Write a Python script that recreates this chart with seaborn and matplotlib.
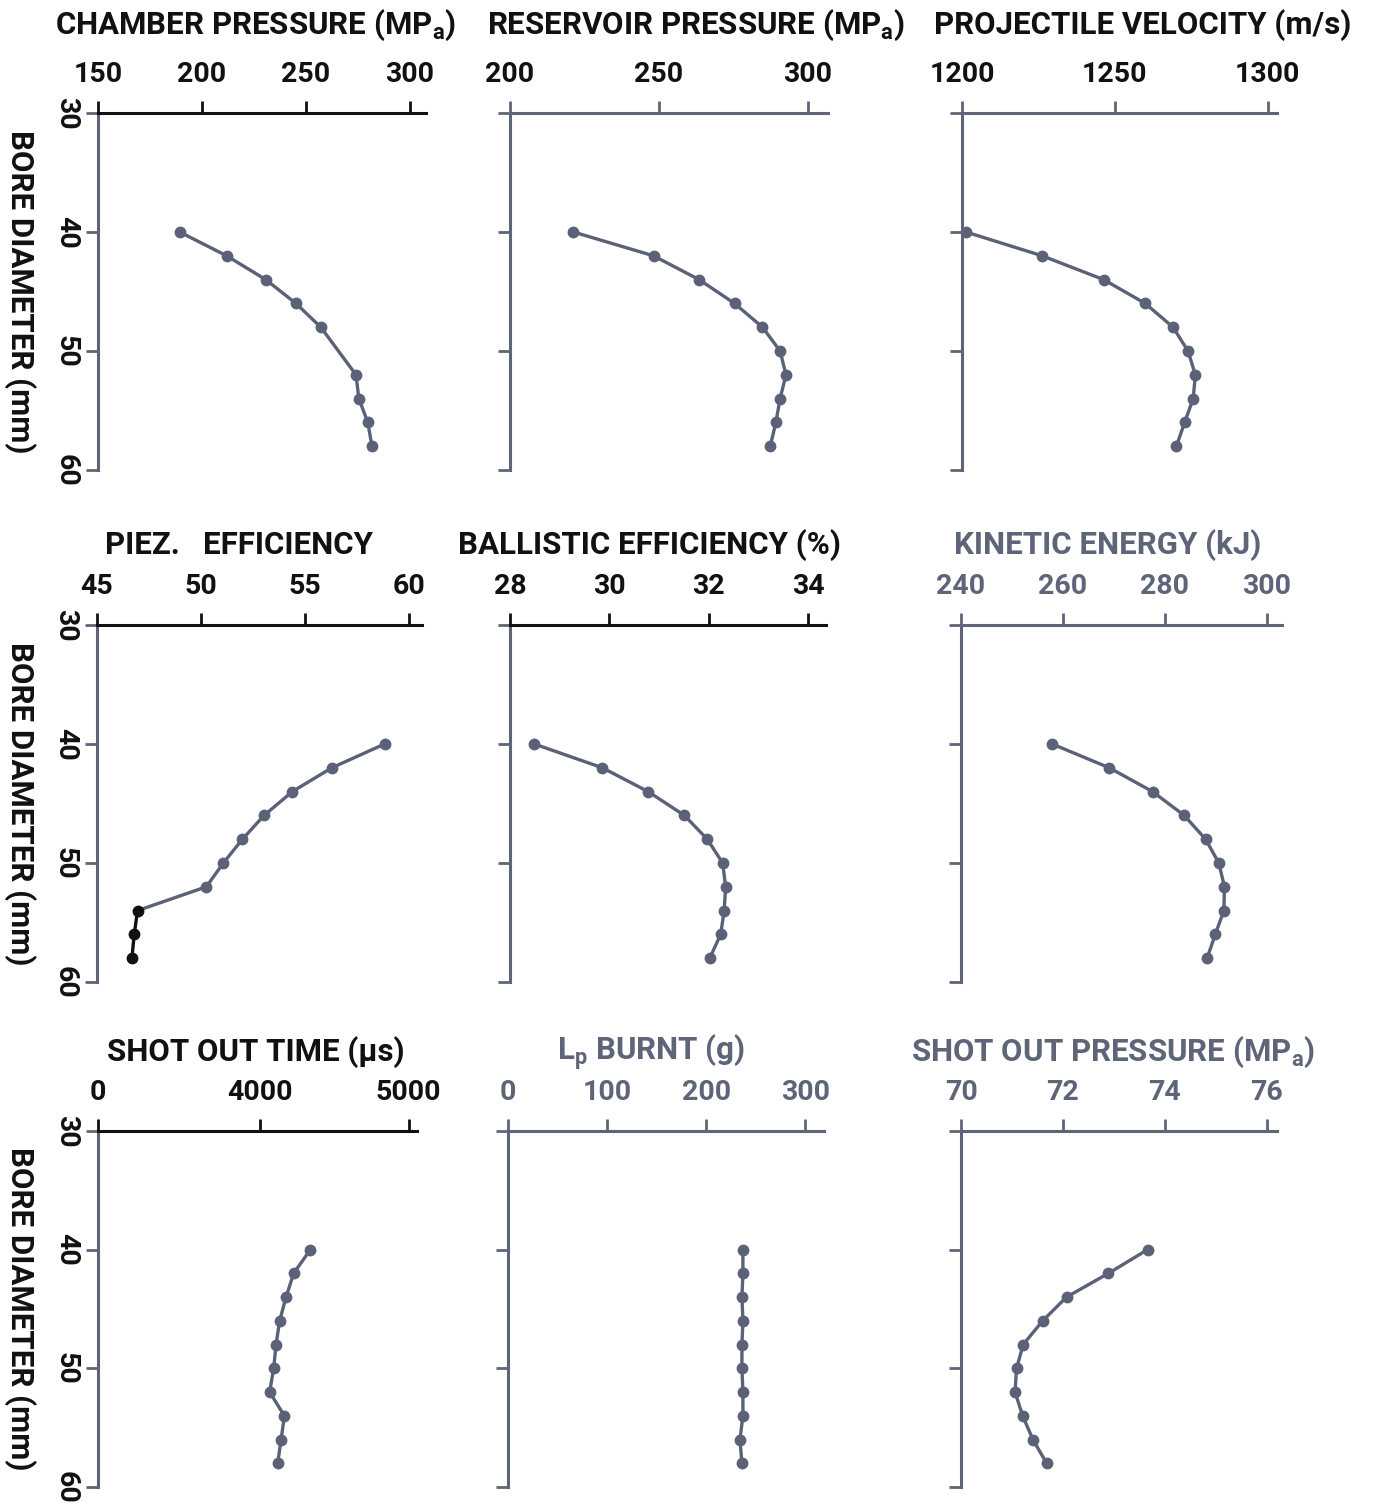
import matplotlib
matplotlib.use("Agg")
import matplotlib.pyplot as plt
import seaborn as sns

# ---------------- data ----------------
bore = [40, 42, 44, 46, 48, 50, 52, 54, 56, 58]
chamber_bore = [40, 42, 44, 46, 48, 52, 54, 56, 58]
chamber = [189.3, 211.9, 230.7, 245.2, 257.2, 274.1, 275.5, 279.8, 281.8]
reservoir = [221.3, 248.2, 263.5, 275.4, 284.8, 290.7, 292.7, 290.7, 289.3, 287.4]
velocity = [1201.3, 1226.2, 1246.3, 1259.9, 1269.0, 1273.9, 1276.3, 1275.6, 1272.8, 1270.1]
piez = [58.84, 56.3, 54.4, 53.04, 52.0, 51.08, 50.26, 46.95, 46.79, 46.68]
ballistic = [28.49, 29.86, 30.78, 31.51, 31.97, 32.28, 32.34, 32.31, 32.24, 32.02]
kinetic = [257.9, 269.1, 277.6, 283.8, 288.0, 290.6, 291.7, 291.6, 289.9, 288.3]
shot_time = [4340, 4228, 4177, 4134, 4110, 4094, 4067, 4166, 4144, 4121]
lp_burnt = [237, 237, 236, 237, 236, 236, 237, 237, 234, 236]
shot_pressure = [73.66, 72.89, 72.07, 71.60, 71.22, 71.09, 71.06, 71.21, 71.41, 71.68]

titles = ["CHAMBER PRESSURE (MP$_{\\rm a}$)", "RESERVOIR PRESSURE (MP$_{\\rm a}$)",
          "PROJECTILE VELOCITY (m/s)", "PIEZ.   EFFICIENCY", "BALLISTIC EFFICIENCY (%)",
          "KINETIC ENERGY (kJ)", "SHOT OUT TIME (\u00b5s)", "L$_{\\rm p}$ BURNT (g)",
          "SHOT OUT PRESSURE (MP$_{\\rm a}$)"]
xticks = [[150, 200, 250, 300], [200, 250, 300], [1200, 1250, 1300],
          [45, 50, 55, 60], [28, 30, 32, 34], [240, 260, 280, 300],
          [2915, 4000, 5000], [0, 100, 200, 300], [70, 72, 74, 76]]
xticklabels = [["150", "200", "250", "300"], ["200", "250", "300"], ["1200", "1250", "1300"],
               ["45", "50", "55", "60"], ["28", "30", "32", "34"], ["240", "260", "280", "300"],
               ["0", "4000", "5000"], ["0", "100", "200", "300"], ["70", "72", "74", "76"]]
xlims = [(150, 307.8), (200, 306.8), (1200, 1303), (45, 60.64), (28, 34.36),
         (240, 303.0), (2915, 5056), (0, 318.8), (70, 76.2)]
yticks = [30, 40, 50, 60]
ylabel = "BORE DIAMETER (mm)"

# ---------------- style ----------------
sns.set_theme(style="white")
plt.rcParams['font.family'] = ['Roboto', 'DejaVu Sans']
plt.rcParams['mathtext.fontset'] = 'custom'
plt.rcParams['mathtext.rm'] = 'Roboto:bold'
plt.rcParams['mathtext.it'] = 'Roboto:bold'
plt.rcParams['mathtext.bf'] = 'Roboto:bold'

W, H = 1373, 1504
fig = plt.figure(figsize=(W / 100, H / 100), dpi=100)
fig.patch.set_facecolor("white")

GREY = "#5f6579"
DATA = "#5b6176"
BLACK = "#111111"

col_lr = [[(98, 426), (510, 828), (962, 1277)],
          [(97, 422), (510, 826), (961, 1282)],
          [(98, 417), (508, 824), (961, 1277)]]
row_tb = [(113, 470), (625, 982), (1131, 1487)]
title_y = [25, 545, 1052]
title_x = [[255, 696, 1143], [239, 650, 1108], [256, 651, 1113]]
text_col = [BLACK, BLACK, BLACK, BLACK, BLACK, GREY, BLACK, GREY, GREY]
top_col = [BLACK, GREY, GREY, BLACK, BLACK, GREY, BLACK, GREY, GREY]

series = [(chamber, chamber_bore), (reservoir, bore), (velocity, bore),
          (piez, bore), (ballistic, bore), (kinetic, bore),
          (shot_time, bore), (lp_burnt, bore), (shot_pressure, bore)]

for i in range(9):
    r, c = divmod(i, 3)
    l, rr = col_lr[r][c]
    t, b = row_tb[r]
    ax = fig.add_axes([l / W, 1 - b / H, (rr - l) / W, (b - t) / H])
    ax.set_facecolor("none")
    vals, yy = series[i]
    if i == 3:
        sns.lineplot(x=vals[:8], y=yy[:8], ax=ax, sort=False, estimator=None,
                     color=DATA, lw=2.4, marker='o', markersize=8.5, markeredgewidth=0,
                     markevery=list(range(7)))
        sns.lineplot(x=vals[7:], y=yy[7:], ax=ax, sort=False, estimator=None,
                     color=BLACK, lw=2.4, marker='o', markersize=8.5, markeredgewidth=0)
    else:
        sns.lineplot(x=vals, y=yy, ax=ax, sort=False, estimator=None,
                     color=DATA, lw=2.4, marker='o', markersize=8.5, markeredgewidth=0)
    ax.set_xlim(*xlims[i])
    ax.set_ylim(60, 30)
    ax.set_xlabel("")
    ax.set_ylabel("")
    ax.grid(False)
    for s in ["right", "bottom"]:
        ax.spines[s].set_visible(False)
    ax.spines["top"].set_color(top_col[i])
    ax.spines["top"].set_linewidth(2.2)
    ax.spines["left"].set_color(GREY)
    ax.spines["left"].set_linewidth(2.2)
    ax.xaxis.tick_top()
    ax.set_xticks(xticks[i])
    ax.set_xticklabels(xticklabels[i])
    ax.tick_params(axis='x', top=True, bottom=False, labeltop=True, labelbottom=False,
                   direction='out', length=9, width=2, pad=9, labelsize=20.5,
                   color=top_col[i], labelcolor=text_col[i])
    for lab in ax.get_xticklabels():
        lab.set_fontweight('bold')
    ax.set_yticks(yticks)
    ax.tick_params(axis='y', left=True, direction='out', length=9, width=2,
                   color=GREY, pad=4, labelsize=20.5, labelcolor=BLACK,
                   labelleft=(c == 0), labelrotation=-90)
    for lab in ax.get_yticklabels():
        lab.set_fontweight('bold')
        lab.set_verticalalignment('center')
    fig.text(title_x[r][c] / W, 1 - title_y[r] / H, titles[i], ha='center', va='center',
             fontsize=22.5, fontweight='bold', color=text_col[i])
    if c == 0:
        fig.text(20 / W, 1 - (t + b) / 2 / H, ylabel, rotation=-90, ha='center',
                 va='center', fontsize=22.5, fontweight='bold', color=BLACK)

fig.savefig("out.png", dpi=100, facecolor="white")
